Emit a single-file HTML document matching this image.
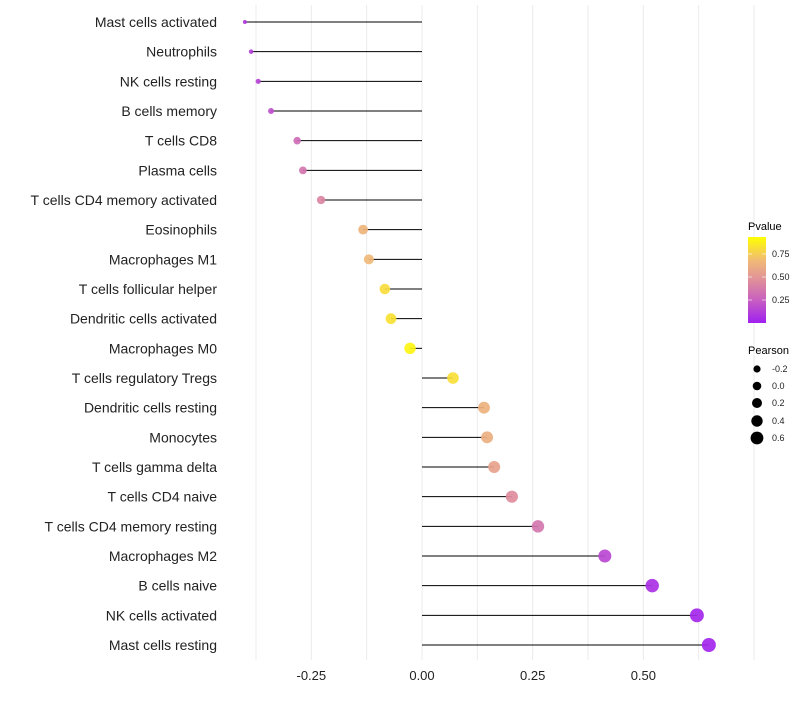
<!DOCTYPE html>
<html><head><meta charset="utf-8"><style>
body{margin:0;background:#fff;font-family:"Liberation Sans",sans-serif}
svg text{font-family:"Liberation Sans",sans-serif}
</style></head><body>
<svg id="chart" width="800" height="700" xmlns="http://www.w3.org/2000/svg">
<defs><linearGradient id="pg" x1="0" y1="1" x2="0" y2="0">
<stop offset="0" stop-color="#A020F0"/><stop offset="0.27" stop-color="#C860C0"/><stop offset="0.5" stop-color="#E0909A"/><stop offset="0.72" stop-color="#F0B878"/><stop offset="1" stop-color="#FFFF00"/>
</linearGradient></defs>
<g id="grid"></g><g id="marks"></g><g id="labels"></g><g id="xaxis"></g>
<g>
<text x="748" y="230" font-size="11">Pvalue</text>
<rect x="748" y="237" width="18" height="86" fill="url(#pg)"/>
<line x1="748" y1="254" x2="752" y2="254" stroke="#fff" opacity="0.6"/><line x1="762" y1="254" x2="766" y2="254" stroke="#fff" opacity="0.6"/>
<line x1="748" y1="277" x2="752" y2="277" stroke="#fff" opacity="0.6"/><line x1="762" y1="277" x2="766" y2="277" stroke="#fff" opacity="0.6"/>
<line x1="748" y1="300" x2="752" y2="300" stroke="#fff" opacity="0.6"/><line x1="762" y1="300" x2="766" y2="300" stroke="#fff" opacity="0.6"/>
<text x="772" y="257" font-size="9" fill="#222">0.75</text>
<text x="772" y="280" font-size="9" fill="#222">0.50</text>
<text x="772" y="303" font-size="9" fill="#222">0.25</text>
</g>
<g>
<text x="748" y="354" font-size="11">Pearson</text>
<circle cx="757" cy="369" r="3.6"/><text x="772" y="372" font-size="9" fill="#222">-0.2</text>
<circle cx="757" cy="386" r="4.3"/><text x="772" y="389" font-size="9" fill="#222">0.0</text>
<circle cx="757" cy="403" r="5"/><text x="772" y="406" font-size="9" fill="#222">0.2</text>
<circle cx="757" cy="421" r="5.7"/><text x="772" y="424" font-size="9" fill="#222">0.4</text>
<circle cx="757" cy="438" r="6.4"/><text x="772" y="441" font-size="9" fill="#222">0.6</text>
</g>
</svg>
<script>
const categories=["Mast cells activated","Neutrophils","NK cells resting","B cells memory","T cells CD8","Plasma cells","T cells CD4 memory activated","Eosinophils","Macrophages M1","T cells follicular helper","Dendritic cells activated","Macrophages M0","T cells regulatory  Tregs ","Dendritic cells resting","Monocytes","T cells gamma delta","T cells CD4 naive","T cells CD4 memory resting","Macrophages M2","B cells naive","NK cells activated","Mast cells resting"];
const pearson=[-0.40,-0.386,-0.37,-0.341,-0.282,-0.269,-0.228,-0.133,-0.12,-0.084,-0.07,-0.027,0.07,0.14,0.147,0.163,0.203,0.262,0.413,0.52,0.621,0.648];
const pvalues=[0.1,0.13,0.15,0.2,0.33,0.37,0.45,0.7,0.72,0.86,0.88,0.96,0.87,0.68,0.67,0.6,0.48,0.38,0.17,0.07,0.03,0.02];
const xTicks=[-0.25,0,0.25,0.5];
const xTickLabels=["-0.25","0.00","0.25","0.50"];
const NS="http://www.w3.org/2000/svg";
const x=v=>422+v*442.7;
const y=i=>22+i*(623/21);
function rad(v){
 const kn=[[-0.4,2],[-0.37,2.6],[-0.28,3.8],[-0.13,4.9],[-0.03,5.7],[0.07,5.8],[0.65,7]];
 if(v<=kn[0][0])return kn[0][1];
 for(let k=1;k<kn.length;k++){if(v<=kn[k][0]){const a=kn[k-1],b=kn[k];return a[1]+(b[1]-a[1])*(v-a[0])/(b[0]-a[0]);}}
 return 7;
}
function col(p){
 const st=[[0,[160,32,240]],[0.27,[200,96,192]],[0.5,[224,144,154]],[0.72,[240,184,120]],[1,[255,255,0]]];
 for(let k=1;k<st.length;k++){if(p<=st[k][0]){const a=st[k-1],b=st[k],t=(p-a[0])/(b[0]-a[0]);return "rgb("+a[1].map((c,j)=>Math.round(c+(b[1][j]-c)*t)).join(",")+")";}}
 return "rgb(255,255,0)";
}
function mk(t,a,p){const e=document.createElementNS(NS,t);for(const k in a)e.setAttribute(k,a[k]);p.appendChild(e);return e;}
const grid=document.getElementById('grid'),marks=document.getElementById('marks'),labels=document.getElementById('labels'),xa=document.getElementById('xaxis');
for(let v=-0.375;v<=0.75;v+=0.125){
 const g=mk('line',{x1:x(v),x2:x(v),y1:5,y2:660,stroke:'#ebebeb','stroke-width':1},grid);
 
 
}
categories.forEach((c,i)=>{
 const yy=y(i);
 const hl=mk('line',{x1:x(pearson[i]),x2:x(0),y1:yy,y2:yy,stroke:'#000','stroke-width':1},marks);
 
 
 const pt=mk('circle',{cx:x(pearson[i]),cy:yy,r:rad(pearson[i]),fill:col(pvalues[i]),opacity:0.92},marks);
 
 
 const tl=mk('text',{x:217,y:yy+5,'text-anchor':'end','font-size':14,fill:'#222'},labels);
 tl.textContent=c;
 
 
});
xTicks.forEach((v,i)=>{
 const t=mk('text',{x:x(v),y:680,'text-anchor':'middle','font-size':13,fill:'#222'},xa);
 t.textContent=xTickLabels[i];
 
 
});
</script>
</body></html>
